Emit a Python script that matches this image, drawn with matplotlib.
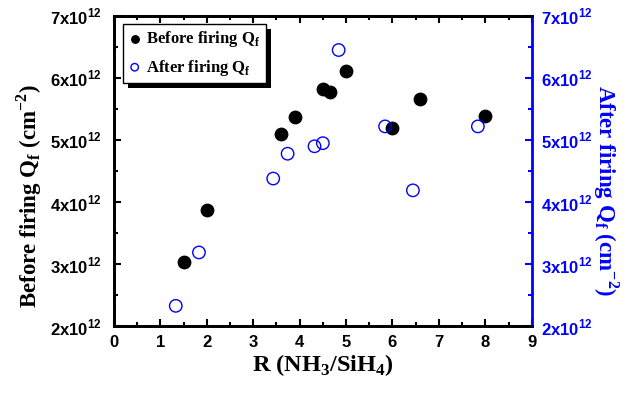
import matplotlib
matplotlib.use("Agg")
import matplotlib.pyplot as plt
from matplotlib.ticker import MultipleLocator, FixedLocator
from matplotlib.patches import Rectangle
from matplotlib.transforms import IdentityTransform

plt.rcParams['mathtext.fontset'] = 'custom'
plt.rcParams['mathtext.rm'] = 'Liberation Serif:bold'

# Data (x in NH3/SiH4 ratio, y in units of 1e12 cm^-2)
before_x = [1.5, 2.0, 3.6, 3.9, 4.5, 4.65, 5.0, 6.0, 6.6, 8.0]
before_y = [3.03, 3.88, 5.10, 5.37, 5.83, 5.78, 6.11, 5.19, 5.66, 5.39]
after_x = [1.33, 1.83, 3.43, 3.74, 4.32, 4.50, 4.84, 5.84, 6.44, 7.84]
after_y = [2.33, 3.19, 4.38, 4.78, 4.90, 4.95, 6.45, 5.22, 4.19, 5.22]
xticks = [0, 1, 2, 3, 4, 5, 6, 7, 8, 9]
yticks = [2, 3, 4, 5, 6, 7]
ytick_labels = [r'%dx10$^{\mathregular{12}}$' % v for v in yticks]

blue = '#0000ff'
sans = 'Liberation Sans'
serif = 'Liberation Serif'

fig = plt.figure(figsize=(6.3, 3.97), dpi=100)
ax = fig.add_axes([0.181, 0.178, 0.663, 0.782])
ax2 = ax.twinx()

ax.scatter(before_x, before_y, s=80, c='black', marker='o', zorder=3,
           label=r'Before firing Q$_\mathregular{f}$')
ax2.scatter(after_x, after_y, s=80, facecolors='none', edgecolors=blue,
            linewidths=1.0, marker='o', zorder=3,
            label=r'After firing Q$_\mathregular{f}$')

for a in (ax, ax2):
    a.set_xlim(0, 9)
    a.set_ylim(2, 7)

ax.xaxis.set_major_locator(FixedLocator(xticks))
ax.xaxis.set_minor_locator(MultipleLocator(0.5))
ax.yaxis.set_major_locator(FixedLocator(yticks))
ax.yaxis.set_minor_locator(MultipleLocator(0.5))
ax2.yaxis.set_major_locator(FixedLocator(yticks))
ax2.yaxis.set_minor_locator(MultipleLocator(0.5))

ax.set_xticklabels([str(v) for v in xticks], fontfamily=sans,
                   fontweight='bold', fontsize=12)
ax.set_yticklabels(ytick_labels, fontfamily=sans, fontweight='bold', fontsize=12)
ax2.set_yticklabels(ytick_labels, fontfamily=sans, fontweight='bold',
                    fontsize=12, color=blue)

ax.tick_params(axis='x', which='both', direction='in', top=True, width=1.5,
               pad=6)
ax.tick_params(axis='x', which='major', length=5)
ax.tick_params(axis='x', which='minor', length=3)
ax.tick_params(axis='y', which='both', direction='in', right=False, width=1.5,
               pad=9)
ax.tick_params(axis='y', which='major', length=5)
ax.tick_params(axis='y', which='minor', length=3)
ax2.tick_params(axis='y', which='both', direction='in', colors=blue, width=1.5,
                pad=7)
ax2.tick_params(axis='y', which='major', length=5)
ax2.tick_params(axis='y', which='minor', length=3)

for s in ('left', 'bottom', 'top'):
    ax.spines[s].set_linewidth(2)
    ax2.spines[s].set_linewidth(2)
ax2.spines['right'].set_linewidth(2)
ax2.spines['right'].set_color(blue)
ax.spines['right'].set_visible(False)

ax.set_xlabel(r'R (NH$_\mathregular{3}$/SiH$_\mathregular{4}$)',
              fontfamily=serif, fontweight='bold', fontsize=17.5, labelpad=2)
ax.set_ylabel(r'Before firing Q$_\mathregular{f}$ (cm$^\mathregular{-2}$)',
              fontfamily=serif, fontweight='bold', fontsize=16.5)
ax.yaxis.set_label_coords(-0.167, 0.42)
ax.yaxis.label.set_verticalalignment('bottom')

ax2.set_ylabel(r'After firing Q$_\mathregular{f}$ (cm$^\mathregular{-2}$)',
               fontfamily=serif, fontweight='bold', fontsize=16.5, color=blue,
               rotation=270)
ax2.yaxis.set_label_coords(1.142, 0.436)
ax2.yaxis.label.set_verticalalignment('bottom')
ax2.yaxis.label.set_rotation_mode('anchor')
ax2.yaxis.label.set_horizontalalignment('center')

h1, l1 = ax.get_legend_handles_labels()
h2, l2 = ax2.get_legend_handles_labels()
leg = ax2.legend(h1 + h2, l1 + l2, loc='upper left',
                 bbox_to_anchor=(0.0215, 0.973), borderaxespad=0,
                 frameon=True, fancybox=False, shadow=False,
                 edgecolor='black', framealpha=1, borderpad=0.3,
                 handletextpad=0.3, handlelength=0.8, markerscale=0.6,
                 prop={'family': serif, 'weight': 'bold', 'size': 12})
leg.get_frame().set_linewidth(1.0)
leg.set_zorder(6)

fig.canvas.draw()
bb = leg.get_frame().get_window_extent()
shadow = Rectangle((bb.x0 + 5, bb.y0 - 5), bb.width, bb.height,
                   transform=IdentityTransform(), facecolor='black',
                   edgecolor='none', clip_on=False, zorder=5.5)
ax2.add_artist(shadow)

fig.savefig('out.png', dpi=100)
